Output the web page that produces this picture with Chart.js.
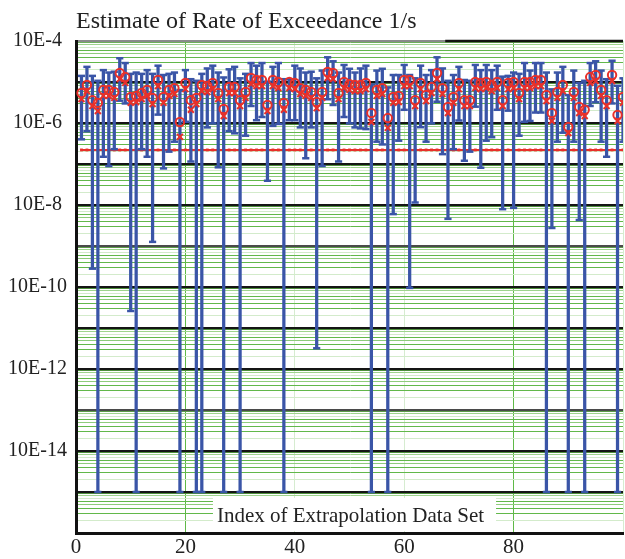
<!DOCTYPE html>
<html>
<head>
<meta charset="utf-8">
<title>Estimate of Rate of Exceedance</title>
<script src="https://cdn.jsdelivr.net/npm/chart.js@4.4.1/dist/chart.umd.min.js"></script>
<style>
html, body { margin: 0; padding: 0; background: #fff; overflow: hidden; }
#wrap { position: relative; width: 625px; height: 559px; }
</style>
</head>
<body>
<div id="wrap"><canvas id="rateChart"></canvas></div>
<script>
// index of each extrapolation data set
const setIndex = Array.from({ length: 100 }, (_, i) => i + 1);

// upper / lower end of each error bar (1/s)
const upperBound = [
    1.41e-5, 2.34e-5, 1.41e-5, 1.07e-5, 1.95e-5, 1.70e-5, 1.78e-5, 3.8e-5, 2.9e-5, 1.58e-5,
    1.70e-5, 1.58e-5, 1.95e-5, 1.58e-5, 2.5e-5, 1.48e-5, 1.58e-5, 1.70e-5, 6.3e-6, 1.95e-5,
    1.17e-5, 1.07e-5, 1.58e-5, 2.14e-5, 2.5e-5, 1.70e-5, 1.29e-5, 2.04e-5, 2.34e-5, 1.23e-5,
    1.58e-5, 2.9e-5, 2.5e-5, 2.9e-5, 1.02e-5, 2.34e-5, 2.9e-5, 1.17e-5, 1.17e-5, 2.5e-5,
    2.14e-5, 1.70e-5, 1.78e-5, 1.23e-5, 1.9e-5, 4.0e-5, 3.2e-5, 1.70e-5, 2.6e-5, 2.1e-5,
    1.70e-5, 2.14e-5, 2.5e-5, 8.7e-6, 1.9e-5, 2.1e-5, 7.4e-6, 1.48e-5, 1.48e-5, 2.6e-5,
    1.48e-5, 1.23e-5, 2.5e-5, 1.48e-5, 1.95e-5, 4.0e-5, 2.14e-5, 1.07e-5, 1.48e-5, 2.34e-5,
    1.12e-5, 1.07e-5, 2.6e-5, 1.95e-5, 2.6e-5, 1.95e-5, 2.5e-5, 1.35e-5, 1.41e-5, 1.70e-5,
    1.58e-5, 2.9e-5, 1.9e-5, 2.9e-5, 2.9e-5, 1.70e-5, 6.6e-6, 1.70e-5, 2.34e-5, 4.8e-6,
    1.9e-5, 9.5e-6, 1.07e-5, 2.9e-5, 3.2e-5, 1.9e-5, 1.17e-5, 3.3e-5, 8.1e-6, 1.23e-5
];
const lowerBound = [
    4.0e-7, 6.3e-7, 2.8e-10, 1e-15, 1.5e-7, 8.9e-8, 2.3e-7, 3.5e-6, 3.0e-6, 2.6e-11,
    1e-15, 2.3e-7, 1.5e-7, 1.26e-9, 1.6e-6, 7.8e-8, 2.0e-7, 3.5e-7, 1e-15, 1.07e-6,
    1.15e-7, 1e-15, 1e-15, 7.8e-7, 9.8e-7, 8.3e-8, 1e-15, 6.3e-7, 5.6e-7, 1e-15,
    4.9e-7, 2.6e-6, 1.17e-6, 1.4e-6, 3.9e-8, 8.5e-7, 9.5e-7, 1e-15, 1.17e-6, 1.17e-6,
    7.8e-7, 1.38e-7, 7.8e-7, 3.2e-12, 8.9e-8, 3.8e-6, 2.75e-6, 1.15e-7, 1.4e-6, 9.8e-7,
    7.8e-7, 7.4e-7, 7.1e-7, 1e-15, 3.5e-7, 3.0e-7, 1e-15, 6.0e-9, 3.7e-7, 2.1e-6,
    9.5e-11, 1.15e-8, 7.9e-7, 3.5e-7, 9.8e-7, 3.3e-6, 1.74e-7, 4.6e-9, 2.3e-7, 1.15e-6,
    1.2e-7, 2.0e-7, 2.5e-6, 8.1e-8, 3.7e-7, 4.5e-7, 2.1e-6, 7.9e-9, 2.0e-6, 8.5e-9,
    4.9e-7, 1.07e-6, 1.12e-6, 1.8e-6, 1.8e-6, 1e-15, 2.75e-9, 3.5e-7, 5.8e-7, 1e-15,
    3.5e-7, 4.3e-9, 1e-15, 2.6e-6, 3.2e-6, 3.5e-7, 1.5e-7, 3.0e-6, 1e-15, 3.5e-7
];

// point estimates: circle marker and cross marker
const estimateCircle = [
    5.4e-6, 8.5e-6, 3.6e-6, 3.1e-6, 6.4e-6, 6.4e-6, 5.7e-6, 1.66e-5, 1.32e-5, 4.3e-6,
    4.6e-6, 5.4e-6, 6.4e-6, 4.1e-6, 1.12e-5, 4.3e-6, 6.4e-6, 7.1e-6, 1.06e-6, 9.5e-6,
    3.6e-6, 4.1e-6, 8.5e-6, 8.0e-6, 9.5e-6, 5.4e-6, 2.2e-6, 7.6e-6, 7.6e-6, 3.6e-6,
    5.7e-6, 1.25e-5, 1.12e-5, 1.12e-5, 2.75e-6, 1.12e-5, 1.0e-5, 3.1e-6, 1.0e-5, 9.5e-6,
    7.1e-6, 6.4e-6, 5.7e-6, 3.25e-6, 5.7e-6, 1.75e-5, 1.66e-5, 5.4e-6, 1.0e-5, 8.9e-6,
    8.5e-6, 8.5e-6, 9.5e-6, 1.75e-6, 6.4e-6, 7.1e-6, 1.32e-6, 4.3e-6, 4.6e-6, 1.12e-5,
    1.12e-5, 3.6e-6, 9.5e-6, 4.8e-6, 7.6e-6, 1.66e-5, 7.1e-6, 2.45e-6, 4.3e-6, 9.5e-6,
    3.6e-6, 3.6e-6, 1.0e-5, 9.5e-6, 1.0e-5, 8.5e-6, 1.0e-5, 3.6e-6, 9.5e-6, 1.0e-5,
    5.4e-6, 1.0e-5, 1.0e-5, 1.12e-5, 1.12e-5, 4.8e-6, 1.75e-6, 5.7e-6, 8.5e-6, 8.0e-7,
    5.7e-6, 2.45e-6, 2.1e-6, 1.32e-5, 1.48e-5, 6.4e-6, 3.6e-6, 1.48e-5, 1.57e-6, 4.3e-6
];
const estimateCross = [
    3.85e-6, 6.0e-6, 2.6e-6, 1.96e-6, 4.6e-6, 4.6e-6, 4.1e-6, 1.18e-5, 9.5e-6, 3.1e-6,
    3.25e-6, 3.85e-6, 4.6e-6, 2.9e-6, 8.0e-6, 3.1e-6, 4.6e-6, 5.1e-6, 4.6e-7, 6.7e-6,
    2.1e-6, 2.9e-6, 6.0e-6, 5.7e-6, 6.7e-6, 3.85e-6, 1.48e-6, 5.4e-6, 5.4e-6, 2.6e-6,
    4.1e-6, 8.9e-6, 8.0e-6, 8.0e-6, 1.96e-6, 8.0e-6, 7.1e-6, 2.1e-6, 7.1e-6, 6.7e-6,
    5.1e-6, 4.6e-6, 4.1e-6, 2.3e-6, 4.1e-6, 1.25e-5, 1.18e-5, 3.85e-6, 7.1e-6, 6.4e-6,
    6.0e-6, 6.0e-6, 6.7e-6, 1.06e-6, 4.6e-6, 5.1e-6, 7.6e-7, 3.1e-6, 3.25e-6, 8.0e-6,
    8.0e-6, 2.6e-6, 6.7e-6, 3.45e-6, 5.4e-6, 1.18e-5, 5.1e-6, 1.75e-6, 3.1e-6, 6.7e-6,
    2.6e-6, 2.6e-6, 7.1e-6, 6.7e-6, 7.1e-6, 6.0e-6, 7.1e-6, 2.6e-6, 6.7e-6, 7.1e-6,
    3.85e-6, 7.1e-6, 7.1e-6, 8.0e-6, 8.0e-6, 3.45e-6, 1.12e-6, 4.1e-6, 6.0e-6, 5.7e-7,
    4.1e-6, 1.75e-6, 1.48e-6, 9.5e-6, 1.06e-5, 4.6e-6, 2.6e-6, 1.06e-5, 1.12e-6, 3.1e-6
];

// dotted limit line
const limitLevel = 2.2e-7;

// axis ticks
const xTickValues = [0, 20, 40, 60, 80];
const yLabelExp = [-4, -6, -8, -10, -12, -14];
const yTickLabels = ['10E-4', '10E-6', '10E-8', '10E-10', '10E-12', '10E-14'];
const yMinExp = -16;
const yMaxExp = -4;

const chartTitle = 'Estimate of Rate of Exceedance 1/s';
const xTitle = 'Index of Extrapolation Data Set';

const BLUE = '#3a55a7';
const RED = '#e8302a';
const SERIF = '"Liberation Serif", "Times New Roman", serif';

// decade + minor grid values for the log axis
const yGridValues = [];
for (let e = yMinExp; e <= yMaxExp; e++) {
    for (let k = 1; k <= 9; k++) {
        if (e === yMaxExp && k > 1) break;
        yGridValues.push(parseFloat((k * Math.pow(10, e)).toPrecision(3)));
    }
}

function expOf(v) {
    return Math.round(Math.log10(v));
}
function isDecade(v) {
    return Math.abs(Math.log10(v) - expOf(v)) < 1e-6;
}
function significand(v) {
    return Math.round(v / Math.pow(10, Math.floor(Math.log10(v) + 1e-9)));
}

const minorGreen = ['', '', '#d3ebcb', '#62b84a', '#62b84a', '#8fcc7c', '#62b84a', '#d3ebcb', '#9ed48c', '#62b84a'];

function yGridColor(ctx) {
    const v = ctx.tick.value;
    if (isDecade(v)) {
        const e = expOf(v);
        if (e === yMaxExp) return '#8a8a8a';
        if (e === -9 || e === -13) return '#4a4a4a';
        return '#151515';
    }
    return minorGreen[significand(v)];
}

const captionPlugin = {
    id: 'captions',
    beforeDatasetsDraw(chart) {
        const { ctx, chartArea, scales } = chart;
        ctx.save();
        // x axis caption sits inside the plot on a white box
        ctx.font = '21px ' + SERIF;
        const w = ctx.measureText(xTitle).width;
        const cx = (chartArea.left + chartArea.right) / 2;
        ctx.fillStyle = '#ffffff';
        ctx.fillRect(cx - w / 2 - 3, chartArea.bottom - 35, w + 16, 33);
        ctx.fillStyle = '#222';
        ctx.textAlign = 'center';
        ctx.textBaseline = 'alphabetic';
        ctx.fillText(xTitle, cx + 1, chartArea.bottom - 11);
        // black segment on the top frame line
        ctx.strokeStyle = '#111';
        ctx.lineWidth = 2.5;
        ctx.beginPath();
        ctx.moveTo(scales.x.getPixelForValue(67.5), chartArea.top);
        ctx.lineTo(chartArea.right, chartArea.top);
        ctx.stroke();
        ctx.restore();
    },
    afterDraw(chart) {
        const { ctx, chartArea } = chart;
        ctx.save();
        ctx.font = '24px ' + SERIF;
        ctx.fillStyle = '#222';
        ctx.textAlign = 'left';
        ctx.textBaseline = 'alphabetic';
        ctx.fillText(chartTitle, chartArea.left, 28);
        ctx.restore();
    }
};

new Chart(document.getElementById('rateChart'), {
    type: 'scatter',
    data: {
        datasets: [
            {
                data: setIndex.map((x, i) => ({ x: x, y: estimateCircle[i] })),
                pointStyle: 'circle',
                pointRadius: 4.2,
                borderColor: RED,
                backgroundColor: 'rgba(0,0,0,0)',
                pointBorderWidth: 2,
                showLine: false
            },
            {
                data: setIndex.map((x, i) => ({ x: x, y: estimateCross[i] })),
                pointStyle: 'crossRot',
                pointRadius: 4.2,
                borderColor: RED,
                pointBorderWidth: 2,
                showLine: false
            },
            {
                type: 'bar',
                data: setIndex.map((x, i) => ({ x: x, y: [lowerBound[i], upperBound[i]] })),
                backgroundColor: BLUE,
                borderWidth: 0,
                barThickness: 2.6
            },
            {
                data: setIndex.map((x, i) => ({ x: x, y: upperBound[i] })),
                pointStyle: 'line',
                pointRadius: 3.6,
                pointHoverRadius: 3.6,
                borderColor: BLUE,
                pointBorderWidth: 2.5,
                showLine: false
            },
            {
                data: setIndex.map((x, i) => ({ x: x, y: lowerBound[i] })),
                pointStyle: 'line',
                pointRadius: 3.6,
                pointHoverRadius: 3.6,
                borderColor: BLUE,
                pointBorderWidth: 2.5,
                showLine: false
            },
            {
                type: 'line',
                data: setIndex.map(x => ({ x: x, y: limitLevel })),
                borderColor: RED,
                borderWidth: 2,
                pointStyle: 'rect',
                pointRadius: 2,
                pointBackgroundColor: RED,
                pointBorderWidth: 0,
                fill: false
            }
        ]
    },
    options: {
        responsive: true,
        maintainAspectRatio: false,
        animation: false,
        events: [],
        layout: {
            autoPadding: false,
            padding: { top: 41, right: 0, bottom: 0, left: 0 }
        },
        plugins: {
            legend: { display: false },
            tooltip: { enabled: false },
            title: { display: false }
        },
        scales: {
            x: {
                type: 'linear',
                min: 0,
                max: 100,
                offset: false,
                afterFit: function(scale) { scale.height = 26; },
                border: { color: '#111', width: 3 },
                grid: {
                    offset: false,
                    drawTicks: false,
                    lineWidth: 1,
                    color: function(ctx) {
                        const v = ctx.tick.value;
                        if (v === 20 || v === 80) return '#5fb947';
                        return '#d6ecd0';
                    }
                },
                ticks: {
                    stepSize: 20,
                    padding: 2,
                    autoSkip: false,
                    maxRotation: 0,
                    color: '#222',
                    font: { family: SERIF, size: 21 },
                    callback: function(v) { return xTickValues.includes(v) ? String(v) : ''; }
                }
            },
            y: {
                type: 'logarithmic',
                min: Math.pow(10, yMinExp),
                max: Math.pow(10, yMaxExp),
                afterFit: function(scale) { scale.width = 76; },
                afterBuildTicks: function(scale) {
                    scale.ticks = yGridValues.map(v => ({ value: v }));
                },
                border: { color: '#111', width: 3 },
                grid: {
                    drawTicks: false,
                    color: yGridColor,
                    lineWidth: function(ctx) { return isDecade(ctx.tick.value) ? 2.2 : 1; }
                },
                ticks: {
                    autoSkip: false,
                    padding: 9,
                    crossAlign: 'center',
                    color: '#222',
                    font: { family: SERIF, size: 20 },
                    callback: function(v) {
                        if (!isDecade(v)) return '';
                        const k = yLabelExp.indexOf(expOf(v));
                        return k >= 0 ? yTickLabels[k] : '';
                    }
                }
            }
        }
    },
    plugins: [captionPlugin]
});
</script>
</body>
</html>
